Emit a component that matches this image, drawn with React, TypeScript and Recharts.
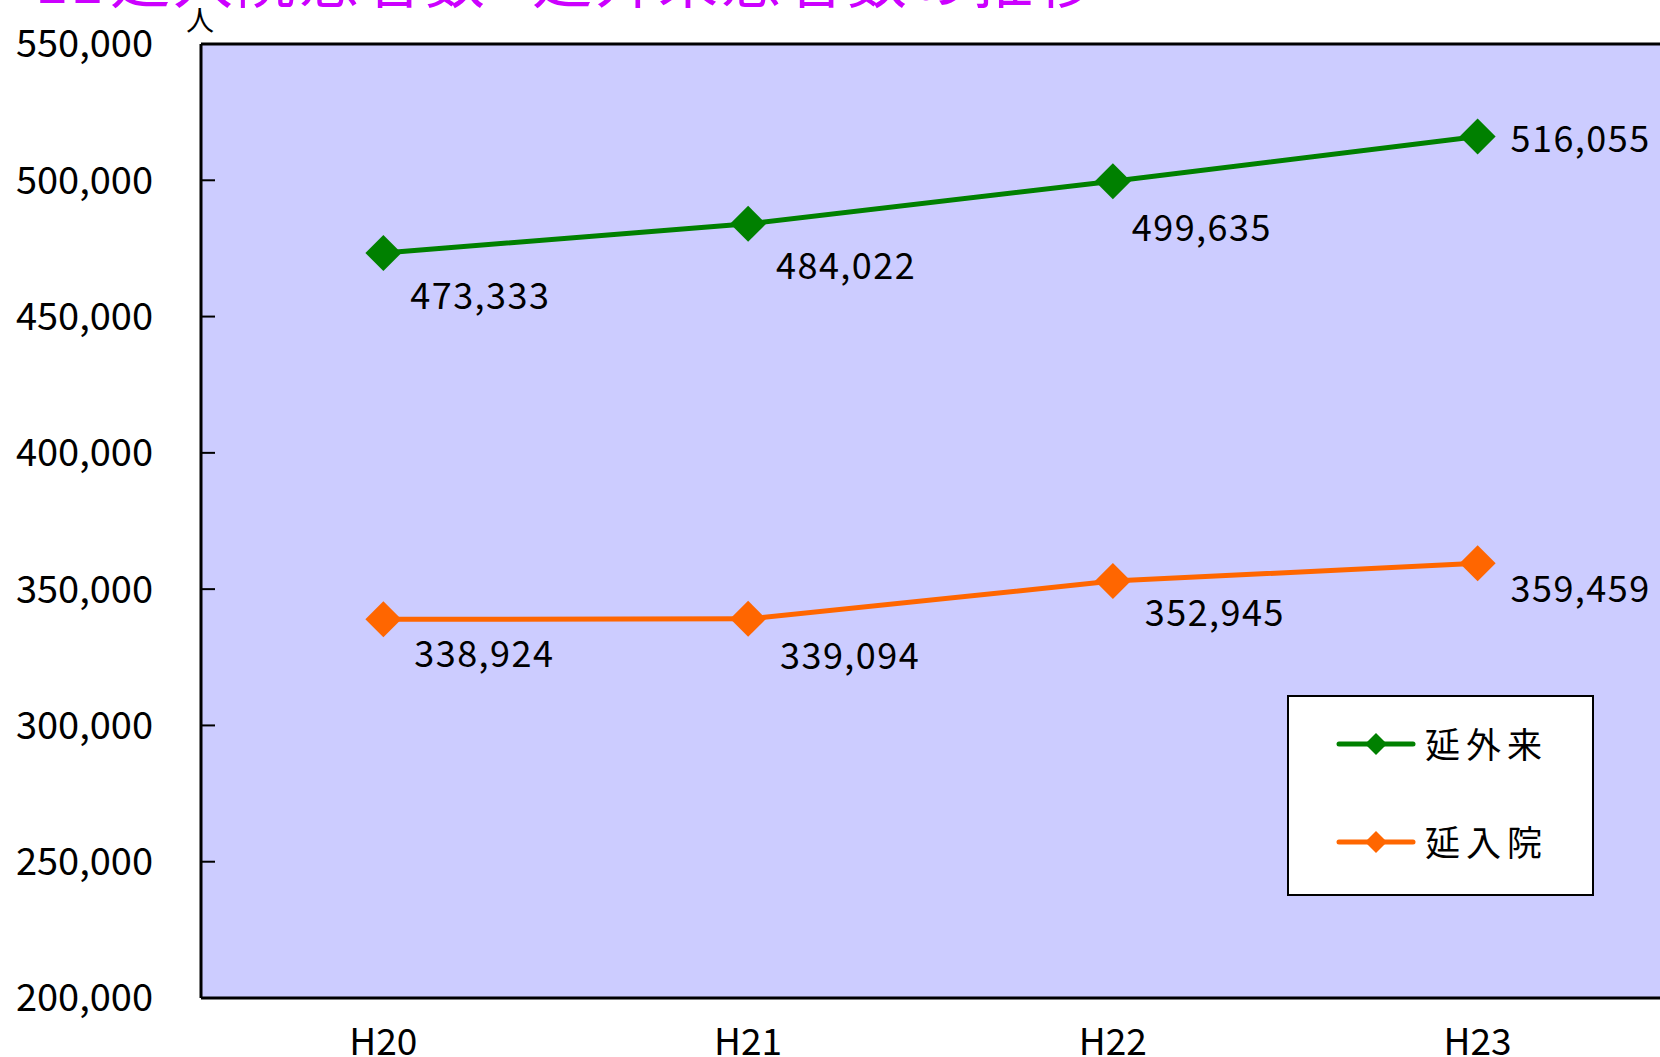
import React from 'react';
import { LineChart, Line, XAxis, YAxis, CartesianGrid, Legend, LabelList, ReferenceLine } from 'recharts';

const categories = ['H20', 'H21', 'H22', 'H23'];
const outpatient = [473333, 484022, 499635, 516055];
const inpatient = [338924, 339094, 352945, 359459];
const yTicks = [200000, 250000, 300000, 350000, 400000, 450000, 500000, 550000];
const seriesNames = ['延外来', '延入院'];
const titleParts = ['11', '延入院患者数', '延外来患者数の推移'];
const unitText = '人';

const data = categories.map((c, i) => ({ cat: c, out: outpatient[i], inp: inpatient[i] }));

const FONT = '"Noto Sans CJK JP", "Noto Sans", sans-serif';
const GREEN = '#008000';
const ORANGE = '#FF6600';

const outOffsets = [[97, 40], [98, 39], [89, 44], [103, -1]];
const inpOffsets = [[101, 32], [102, 34.5], [102, 29], [103, 23]];

const fmt = (v: number) => v.toLocaleString('en-US');

const Diamond = (color: string, r: number) => (props: any) => {
  const { cx, cy } = props;
  if (cx == null || cy == null) return <g />;
  return <polygon points={`${cx},${cy - r} ${cx + r},${cy} ${cx},${cy + r} ${cx - r},${cy}`} fill={color} />;
};

const makeLabel = (offsets: number[][]) => (props: any) => {
  const { x, y, value, index } = props;
  const o = offsets[index] || [100, 40];
  return (
    <text x={x + o[0]} y={y + o[1]} textAnchor="middle" dominantBaseline="central"
      fontFamily={FONT} fontSize={36} letterSpacing={1.5} fill="#000">
      {fmt(value)}
    </text>
  );
};

const LegendBox = (props: any) => {
  const payload = [...(props.payload || [])].sort(
    (a: any, b: any) => seriesNames.indexOf(a.value) - seriesNames.indexOf(b.value)
  );
  return (
    <svg width={307} height={201} style={{ display: 'block' }}>
      <rect x={1} y={1} width={305} height={199} fill="#fff" stroke="#000" strokeWidth={2} />
      {payload.map((p: any, i: number) => {
        const cy = 49 + i * 98;
        return (
          <g key={i}>
            <line x1={52} x2={126} y1={cy} y2={cy} stroke={p.color} strokeWidth={5} strokeLinecap="round" />
            <polygon points={`89,${cy - 11} 100,${cy} 89,${cy + 11} 78,${cy}`} fill={p.color} />
            <text x={138} y={cy - 2} dominantBaseline="central" fontFamily={FONT} fontSize={35} letterSpacing={6} fill="#000">
              {p.value}
            </text>
          </g>
        );
      })}
    </svg>
  );
};

export default function App() {
  return (
    <div style={{ position: 'fixed', left: 0, top: 0, width: 1660, height: 1057, background: '#fff' }}>
      <LineChart width={1660} height={1057} data={data} margin={{ top: 44, right: 0, bottom: 0, left: 0 }}>
        <CartesianGrid horizontal={false} vertical={false} fill="#CCCCFF" />
        <XAxis xAxisId="bounds" type="number" domain={[0, 4]} ticks={[1, 2, 3]} height={0}
          axisLine={false} tickSize={-13} tickFormatter={() => ''} tickLine={{ stroke: '#000', strokeWidth: 2 }}
          allowDataOverflow />
        <XAxis dataKey="cat" scale="band" height={59} tickLine={false} tickSize={0} tickMargin={31}
          axisLine={{ stroke: '#000', strokeWidth: 3 }}
          tick={{ fill: '#000', fontFamily: FONT, fontSize: 37 }} interval={0} />
        <YAxis domain={[200000, 550000]} ticks={yTicks} width={201} tickSize={-14} tickMargin={62}
          tickFormatter={fmt} axisLine={{ stroke: '#000', strokeWidth: 3 }} tickLine={{ stroke: '#000', strokeWidth: 2 }}
          tick={{ fill: '#000', fontFamily: FONT, fontSize: 38 }} allowDataOverflow interval={0} />
        <ReferenceLine y={550000} stroke="#000" strokeWidth={3} />
        <Legend layout="vertical" align="center" verticalAlign="middle" content={<LegendBox />}
          wrapperStyle={{ position: 'absolute', left: 1287, top: 695, width: 307, height: 201 }} />
        <Line dataKey="out" name={seriesNames[0]} stroke={GREEN} strokeWidth={5} dot={Diamond(GREEN, 18)}
          activeDot={false} isAnimationActive={false}>
          <LabelList dataKey="out" content={makeLabel(outOffsets)} />
        </Line>
        <Line dataKey="inp" name={seriesNames[1]} stroke={ORANGE} strokeWidth={5} dot={Diamond(ORANGE, 18)}
          activeDot={false} isAnimationActive={false}>
          <LabelList dataKey="inp" content={makeLabel(inpOffsets)} />
        </Line>
      </LineChart>
      <svg width={1660} height={60} style={{ position: 'absolute', left: 0, top: 0, pointerEvents: 'none' }}>
        <text x={35} y={3} fontFamily={FONT} fontSize={60} letterSpacing={2} fill="#CC00FF">{titleParts[0]}</text>
        <text x={110} y={3} fontFamily={FONT} fontSize={60} letterSpacing={3} fill="#CC00FF">{titleParts[1]}</text>
        <text x={532} y={3} fontFamily={FONT} fontSize={60} letterSpacing={3} fill="#CC00FF">{titleParts[2]}</text>
        <text x={200} y={31} textAnchor="middle" fontFamily={FONT} fontSize={28} fill="#000">{unitText}</text>
      </svg>
    </div>
  );
}
